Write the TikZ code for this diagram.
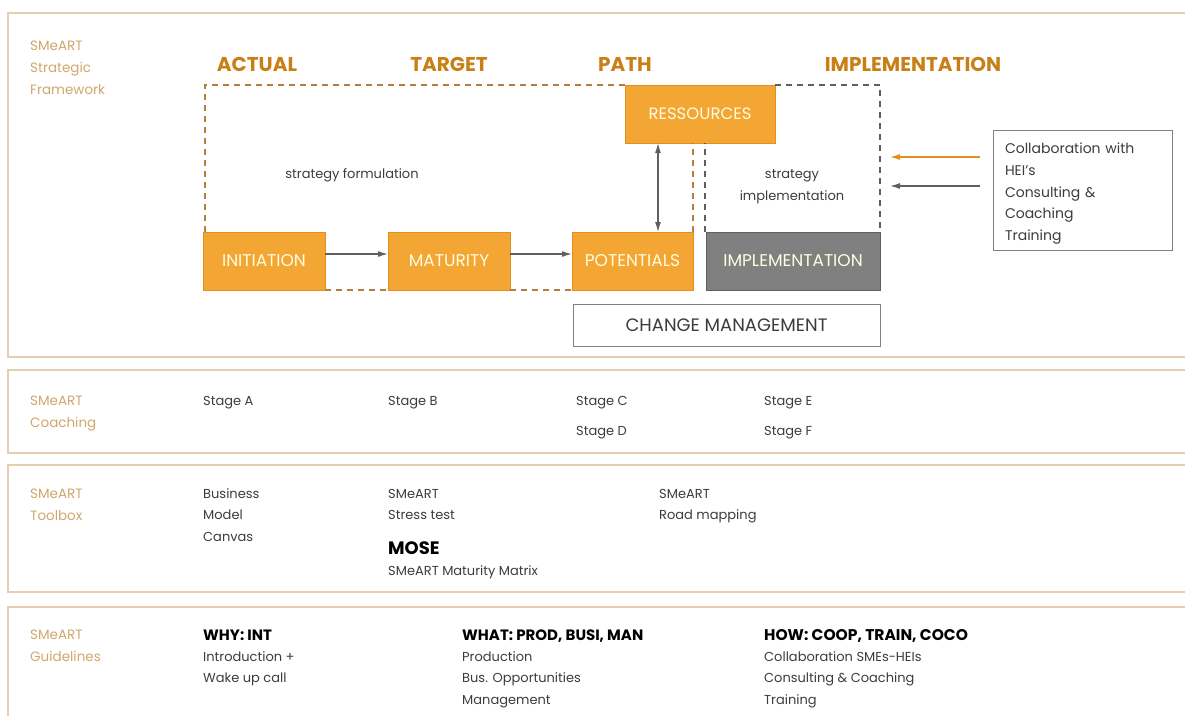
\documentclass[tikz,border=0pt]{standalone}
\usepackage{fontspec}
\setmainfont{Poppins}
\usetikzlibrary{arrows.meta,positioning}
\definecolor{colbox}{RGB}{244,166,52}
\definecolor{colboxline}{RGB}{228,142,32}
\definecolor{colhead}{RGB}{200,128,22}
\definecolor{colpanel}{RGB}{230,206,176}
\definecolor{collabel}{RGB}{208,166,108}
\definecolor{colgrey}{RGB}{128,128,128}
\definecolor{colarrow}{RGB}{95,95,95}
\definecolor{coldash}{RGB}{178,128,62}
\definecolor{coltext}{RGB}{60,60,60}
\tikzset{
  panel/.style={draw=colpanel, line width=1.3pt},
  panellabel/.style={anchor=base west, align=left, inner sep=0pt, text=collabel,
    font=\fontsize{13.5}{22}\selectfont},
  header/.style={anchor=base, inner sep=0pt, text=colhead,
    font=\fontsize{20}{22}\selectfont\bfseries},
  plain/.style={anchor=base west, align=left, inner sep=0pt, text=coltext,
    font=\fontsize{13}{21.5}\selectfont},
  title/.style={plain, text=black, font=\fontsize{15}{21.5}\selectfont\bfseries},
  orangebox/.style={rectangle, anchor=north west, fill=colbox, draw=colboxline,
    line width=1pt, minimum height=58pt, inner sep=0pt, outer sep=0pt,
    text=white!88!yellow, font=\fontsize{17}{19}\selectfont},
  greybox/.style={orangebox, fill=colgrey, draw=colgrey!75!black},
  framebox/.style={rectangle, anchor=north west, draw=colgrey, line width=1pt,
    inner sep=0pt, outer sep=0pt, text=coltext},
  orangedash/.style={draw=coldash, line width=1.3pt, dash pattern=on 6pt off 5pt},
  greydash/.style={draw=colarrow, line width=1.3pt, dash pattern=on 6pt off 5pt},
  arr/.style={draw=colarrow, line width=1.3pt, -{Latex[length=10pt,width=6pt]}},
  darr/.style={draw=colarrow, line width=1.3pt,
    {Latex[length=10pt,width=6pt]}-{Latex[length=10pt,width=6pt]}},
  oarr/.style={arr, draw=colboxline}
}

\begin{document}
\begin{tikzpicture}[x=1pt,y=-1pt]
  \useasboundingbox (0,0) rectangle (1185,716);

  % the four panels, open to the right
  \draw[panel] (1185,13) -- (8,13) -- (8,357) -- (1185,357);
  \draw[panel] (1185,370) -- (8,370) -- (8,453) -- (1185,453);
  \draw[panel] (1185,465) -- (8,465) -- (8,592) -- (1185,592);
  \draw[panel] (1185,607) -- (8,607) -- (8,716);

  % panel labels (base = last line)
  \node[panellabel] (lframe) at (30,94) {SMeART\\Strategic\\Framework};
  \node[panellabel] (lcoach) at (30,427) {SMeART\\Coaching};
  \node[panellabel] (ltool) at (30,520) {SMeART\\Toolbox};
  \node[panellabel] (lguide) at (30,661) {SMeART\\Guidelines};

  % headers
  \node[header] (hact) at (257,71) {ACTUAL};
  \node[header] (htar) at (449,71) {TARGET};
  \node[header] (hpath) at (625,71) {PATH};
  \node[header] (himpl) at (913,71) {IMPLEMENTATION};

  % the boxes
  \node[orangebox, minimum width=150pt, font=\fontsize{16.5}{19}\selectfont]
    (ress) at (625,85) {RESSOURCES};
  \node[orangebox, minimum width=122pt] (init) at (203,232) {INITIATION};
  \node[orangebox, minimum width=122pt] (mat) at (388,232) {MATURITY};
  \node[orangebox, minimum width=121pt] (pot) at (572,232) {POTENTIALS};
  \node[greybox, minimum width=174pt] (impl) at (706,232) {IMPLEMENTATION};
  \node[framebox, minimum width=307pt, minimum height=42pt,
    font=\fontsize{18}{20}\selectfont] (chg) at (573,304) {CHANGE MANAGEMENT};
  \node[framebox, text width=155pt, inner xsep=12pt, minimum height=120pt,
    align=left, font=\fontsize{14}{21.7}\selectfont] (collab) at (993,130)
    {\rule{0pt}{18pt}Collaboration with\\HEI's\\Consulting \&\\Coaching\\Training};

  % dashed frames
  \draw[orangedash] (ress.north west) -- ([xshift=2pt]init.north west |- ress.north)
    -- ([xshift=2pt]init.north west);
  \draw[greydash] (ress.north east) -- (impl.north east |- ress.north)
    -- (impl.north east);
  \draw[orangedash] (init.south east) -- (mat.south west);
  \draw[orangedash] (mat.south east) -- (pot.south west);
  \draw[orangedash] (pot.north east) -- (pot.north east |- ress.south);
  \draw[greydash] ([xshift=-1pt]impl.north west)
    -- ([xshift=-1pt]impl.north west |- ress.south);

  % arrows
  \draw[arr] ([yshift=7pt]init.east) -- ([yshift=7pt]mat.west);
  \draw[arr] ([yshift=7pt]mat.east) -- ([yshift=7pt]pot.west);
  \draw[darr] ([xshift=33pt]ress.south west)
    -- ([xshift=33pt]ress.south west |- pot.north);
  \coordinate (oend) at (890,157);
  \coordinate (gend) at (890,186);
  \draw[oarr] ([xshift=-13pt]collab.west |- oend) -- (oend);
  \draw[arr] ([xshift=-13pt]collab.west |- gend) -- (gend);

  % strategy texts
  \node[plain, anchor=base] (sform) at (352,178) {strategy formulation};
  \node[plain, anchor=base, align=center] (simpl) at (792,200)
    {strategy\\implementation};

  % coaching stages
  \node[plain] (sa) at (203,405) {Stage A};
  \node[plain] (sb) at (388,405) {Stage B};
  \node[plain] (sc) at (576,405) {Stage C};
  \node[plain] (sd) at (576,435) {Stage D};
  \node[plain] (se) at (764,405) {Stage E};
  \node[plain] (sf) at (764,435) {Stage F};

  % toolbox
  \node[plain] (tbmc) at (203,541) {Business\\Model\\Canvas};
  \node[plain] (tst) at (388,519.5) {SMeART\\Stress test};
  \node[title, font=\fontsize{18}{21.5}\selectfont\bfseries] (tmose)
    at (388,554) {MOSE};
  \node[plain] (tmm) at (388,575) {SMeART Maturity Matrix};
  \node[plain] (trm) at (659,519.5) {SMeART\\Road mapping};

  % guidelines
  \node[title] (gwhy) at (203,640) {WHY: INT};
  \node[plain] (gwhyt) at (203,682.5) {Introduction +\\Wake up call};
  \node[title] (gwhat) at (462,640) {WHAT: PROD, BUSI, MAN};
  \node[plain] (gwhatt) at (462,704) {Production\\Bus. Opportunities\\Management};
  \node[title, font=\fontsize{15.5}{21.5}\selectfont\bfseries] (ghow)
    at (764,640) {HOW: COOP, TRAIN, COCO};
  \node[plain] (ghowt) at (764,704)
    {Collaboration SMEs-HEIs\\Consulting \& Coaching\\Training};
\end{tikzpicture}
\end{document}
